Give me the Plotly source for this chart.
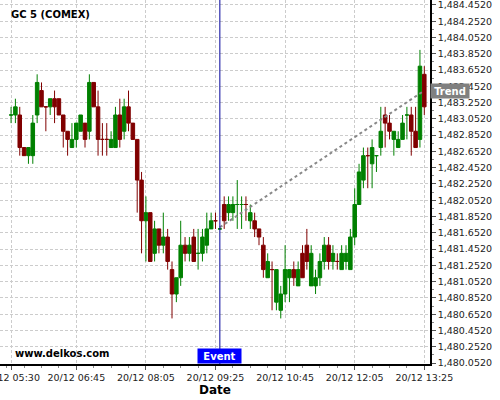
import plotly.graph_objects as go
import pandas as pd

# ---- data (5-minute candles, 20/12 05:30 -> 13:25) ----
start_time = "2023-12-20 05:30"
opens = [1483.1, 1483.1, 1483.1, 1482.7, 1482.6, 1482.6, 1483.1, 1483.4, 1483.2, 1483.2,
         1483.3, 1483.3, 1483.1, 1482.9, 1482.7, 1482.8, 1482.9, 1483.0, 1482.9, 1483.5,
         1483.2, 1482.8, 1482.8, 1482.7, 1482.7, 1483.1, 1482.9, 1483.2, 1483.0, 1482.8,
         1482.3, 1481.8, 1481.9, 1481.4, 1481.7, 1481.5, 1481.6, 1481.2, 1480.9, 1481.1,
         1481.5, 1481.4, 1481.6, 1481.4, 1481.4, 1481.5, 1481.7, 1481.8, 1481.7, 1481.8,
         1482.0, 1481.9, 1482.0, 1482.0, 1482.0, 1481.9, 1481.7, 1481.7, 1481.5, 1481.3,
         1481.2, 1481.2, 1480.7, 1480.9, 1481.1, 1481.1, 1481.2, 1481.1, 1481.5, 1481.4,
         1481.0, 1481.1, 1481.3, 1481.5, 1481.3, 1481.3, 1481.2, 1481.4, 1481.2, 1481.6,
         1482.0, 1482.3, 1482.6, 1482.5, 1482.6, 1482.7, 1483.0, 1483.0, 1482.9, 1482.7,
         1482.8, 1483.1, 1483.1, 1482.9, 1482.8, 1483.6]
highs = [1483.2, 1483.3, 1483.2, 1482.7, 1482.7, 1483.1, 1483.6, 1483.5, 1483.2, 1483.3,
         1483.4, 1483.3, 1483.1, 1482.9, 1483.0, 1483.0, 1483.1, 1483.0, 1483.6, 1483.5,
         1483.4, 1483.0, 1483.0, 1482.9, 1483.2, 1483.3, 1483.3, 1483.4, 1483.0, 1482.8,
         1482.4, 1482.1, 1481.9, 1481.8, 1481.7, 1481.9, 1481.7, 1481.3, 1481.1, 1481.8,
         1481.6, 1481.6, 1481.7, 1481.7, 1481.7, 1481.9, 1481.9, 1481.9, 1481.7, 1482.1,
         1482.1, 1482.1, 1482.3, 1482.1, 1482.1, 1482.0, 1481.9, 1481.7, 1481.6, 1481.4,
         1481.3, 1481.2, 1481.0, 1481.5, 1481.2, 1481.3, 1481.3, 1481.5, 1481.7, 1481.5,
         1481.2, 1481.4, 1481.6, 1481.6, 1481.5, 1481.4, 1481.5, 1481.5, 1481.7, 1482.2,
         1482.5, 1482.7, 1482.7, 1482.8, 1482.6, 1483.2, 1483.2, 1483.1, 1482.9, 1482.9,
         1483.1, 1483.2, 1483.2, 1483.2, 1483.9, 1483.7]
lows = [1483.0, 1483.0, 1482.6, 1482.6, 1482.5, 1482.5, 1483.0, 1483.2, 1482.9, 1483.1,
        1483.0, 1483.1, 1482.7, 1482.6, 1482.7, 1482.7, 1482.9, 1482.7, 1482.8, 1483.2,
        1482.6, 1482.6, 1482.6, 1482.7, 1482.7, 1482.7, 1482.8, 1482.9, 1482.8, 1481.9,
        1481.4, 1481.3, 1481.3, 1481.3, 1481.4, 1481.4, 1481.2, 1480.6, 1480.8, 1481.0,
        1481.3, 1481.3, 1481.3, 1481.2, 1481.3, 1481.4, 1481.7, 1481.7, 1481.7, 1481.7,
        1481.8, 1481.8, 1481.7, 1481.7, 1481.8, 1481.7, 1481.6, 1481.5, 1481.1, 1481.1,
        1480.7, 1480.7, 1480.6, 1480.8, 1480.8, 1481.0, 1481.0, 1481.1, 1481.2, 1481.0,
        1480.9, 1481.0, 1481.2, 1481.2, 1481.2, 1481.2, 1481.2, 1481.2, 1481.2, 1481.5,
        1482.0, 1482.2, 1482.2, 1482.2, 1482.4, 1482.6, 1482.7, 1482.8, 1482.6, 1482.7,
        1482.8, 1482.8, 1482.6, 1482.7, 1482.7, 1483.1]
closes = [1483.1, 1483.2, 1482.7, 1482.6, 1482.7, 1483.0, 1483.5, 1483.2, 1483.2, 1483.3,
          1483.2, 1483.1, 1482.9, 1482.8, 1482.8, 1483.0, 1483.1, 1482.8, 1483.5, 1483.2,
          1482.8, 1482.8, 1482.8, 1482.8, 1483.1, 1482.8, 1483.2, 1483.0, 1482.8, 1482.3,
          1481.8, 1481.9, 1481.3, 1481.7, 1481.5, 1481.6, 1481.3, 1480.9, 1481.1, 1481.5,
          1481.4, 1481.5, 1481.3, 1481.4, 1481.6, 1481.7, 1481.8, 1481.8, 1481.7, 1482.0,
          1481.9, 1482.0, 1482.0, 1482.0, 1482.0, 1481.8, 1481.8, 1481.6, 1481.2, 1481.1,
          1481.2, 1480.8, 1480.9, 1481.2, 1481.2, 1481.2, 1481.0, 1481.4, 1481.3, 1481.0,
          1481.1, 1481.3, 1481.5, 1481.3, 1481.4, 1481.3, 1481.4, 1481.3, 1481.6, 1482.0,
          1482.4, 1482.6, 1482.6, 1482.7, 1482.6, 1482.9, 1483.1, 1482.9, 1482.8, 1482.8,
          1483.0, 1483.1, 1482.9, 1482.7, 1483.7, 1483.2]
# candle colour as drawn: g = green (up), r = dark red (down)
direction = list("ggrrgggrrgrrrrgggrgrrrrggrgrrrrgrgrgrrggrgrggggrgrgggg"
                 "rgrrrgrggggrgrrggggrgrggggggrgggrrggg" "grrgr")

event_time = "2023-12-20 09:30"
trend_x = ["2023-12-20 09:30", "2023-12-20 13:25"]
trend_y = [1481.72, 1483.40]

x_tickvals = ["2023-12-20 05:30", "2023-12-20 06:45", "2023-12-20 08:05", "2023-12-20 09:25",
              "2023-12-20 10:45", "2023-12-20 12:05", "2023-12-20 13:25"]
x_ticktext = ["20/12 05:30", "20/12 06:45", "20/12 08:05", "20/12 09:25",
              "20/12 10:45", "20/12 12:05", "20/12 13:25"]
y_tickvals = [1480.052 + 0.2 * i for i in range(23)]

times = list(pd.date_range(start_time, periods=len(opens), freq="5min"))

GREEN = "#008000"
RED = "#800000"

fig = go.Figure()
for d, col in (("g", GREEN), ("r", RED)):
    idx = [i for i in range(len(opens)) if direction[i] == d]
    fig.add_trace(go.Candlestick(
        x=[times[i] for i in idx],
        open=[opens[i] for i in idx], high=[highs[i] for i in idx],
        low=[lows[i] for i in idx], close=[closes[i] for i in idx],
        increasing=dict(line=dict(color=col, width=1), fillcolor=col),
        decreasing=dict(line=dict(color=col, width=1), fillcolor=col),
        whiskerwidth=0, showlegend=False, hoverinfo="skip"))

fig.add_trace(go.Scatter(x=trend_x, y=trend_y, mode="lines",
                         line=dict(color="#888888", width=2, dash="dot"),
                         showlegend=False, hoverinfo="skip"))

fig.add_shape(type="line", xref="x", yref="paper", x0=event_time, x1=event_time,
              y0=0, y1=1, line=dict(color="#00009A", width=1))

FONT = "DejaVu Sans"
fig.add_annotation(x=event_time, xref="x", y=0, yref="paper", yanchor="bottom",
                   xanchor="center", text="<b>Event</b>", showarrow=False,
                   bgcolor="#0000FF", font=dict(color="white", size=10, family=FONT),
                   width=41, height=12, borderpad=1)
fig.add_annotation(x=1, xref="paper", y=trend_y[-1], yref="y", xanchor="left",
                   yanchor="middle", text="<b>Trend</b>", showarrow=False,
                   bgcolor="#808080", font=dict(color="white", size=10, family=FONT),
                   width=36, height=12, borderpad=1)
fig.add_annotation(x=0.02, xref="paper", y=1 - 15 / 364, yref="paper", yanchor="middle",
                   xanchor="left", text="<b>GC 5 (COMEX)</b>", showarrow=False,
                   font=dict(color="black", size=10, family=FONT))
fig.add_annotation(x=0.03, xref="paper", y=0.03, yref="paper", yanchor="middle",
                   xanchor="left", text="<b>www.delkos.com</b>", showarrow=False,
                   font=dict(color="black", size=10, family=FONT))

fig.update_layout(
    width=500, height=400,
    margin=dict(l=0, r=70, t=0, b=36, autoexpand=False),
    paper_bgcolor="white", plot_bgcolor="white",
    font=dict(family=FONT, size=10, color="#222"),
    boxgap=0.1, boxgroupgap=0.1,
    xaxis=dict(
        type="date", rangeslider=dict(visible=False), automargin=False,
        range=["2023-12-20 05:17:18", "2023-12-20 13:31:33"],
        tickmode="array", tickvals=x_tickvals, ticktext=x_ticktext,
        tickfont=dict(size=9.5, color="#222"), ticklabeloverflow="allow",
        showgrid=True, gridcolor="#cccccc", griddash="3px,2px", gridwidth=1,
        showline=True, linecolor="black", linewidth=1.5,
        ticks="outside", ticklen=4, tickcolor="#555",
        minor=dict(ticks="outside", ticklen=2, tickcolor="#888",
                   tick0="2023-12-20 05:25", dtick=20 * 60 * 1000, showgrid=False),
        title=dict(text="<b>Date</b>", font=dict(size=12, color="black"), standoff=2),
        zeroline=False,
    ),
    yaxis=dict(
        side="right", range=[1480.04, 1484.513], automargin=False,
        tickmode="array", tickvals=y_tickvals, tickformat=",.4f",
        tickfont=dict(size=9.5, color="#222"), ticklabeloverflow="allow",
        showgrid=True, gridcolor="#cccccc", griddash="3px,2px", gridwidth=1,
        showline=True, linecolor="black", linewidth=1.5,
        ticks="outside", ticklen=4, tickcolor="#555",
        minor=dict(ticks="outside", ticklen=2, tickcolor="#888",
                   tick0=1480.052, dtick=0.1, showgrid=False),
        zeroline=False,
    ),
)

fig.write_html("out.html", config={"displayModeBar": False},
               post_script="document.body.style.margin='0';")
